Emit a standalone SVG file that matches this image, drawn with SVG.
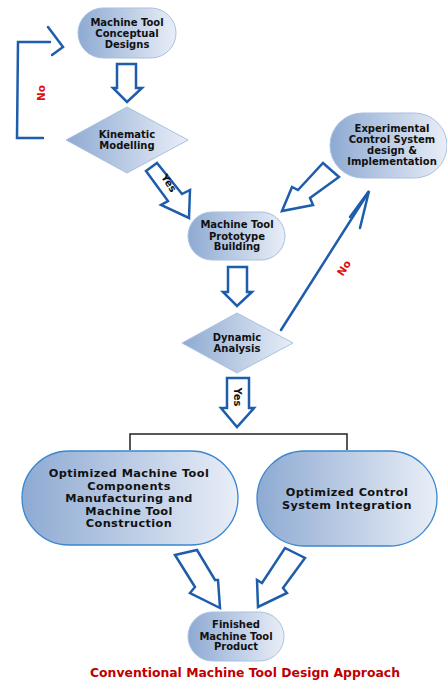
<svg xmlns="http://www.w3.org/2000/svg" width="447" height="682" viewBox="0 0 447 682">
<defs>
<linearGradient id="g" x1="0" y1="0" x2="1" y2="0">
<stop offset="0" stop-color="#8eaad2"/>
<stop offset="1" stop-color="#e9eef7"/>
</linearGradient>
<style>
.n{fill:url(#g);stroke:#a9c1e2;stroke-width:1}
.b{fill:url(#g);stroke:#3b86cf;stroke-width:1.3}
.t{font-family:"DejaVu Sans",Verdana,sans-serif;font-weight:bold;font-size:10px;fill:#111;text-anchor:middle}
.tb{font-family:"DejaVu Sans",Verdana,sans-serif;font-weight:bold;font-size:11.3px;letter-spacing:0.4px;fill:#111;text-anchor:middle}
.ar{fill:none;stroke:#1d5dab;stroke-width:2.5;stroke-linejoin:miter;stroke-linecap:round}
.red{font-family:"DejaVu Sans",Verdana,sans-serif;font-weight:bold;font-size:10.5px;fill:#e01010;text-anchor:middle}
.cap{font-family:"DejaVu Sans",Verdana,sans-serif;font-weight:bold;font-size:12.4px;fill:#c00000;text-anchor:middle}
</style>
</defs>
<rect width="447" height="682" fill="#fff"/>

<g id="connectors">
<!-- Conceptual -> Kinematic -->
<path class="ar" d="M117,64 L136,64 L136,88 L142,88 L127,102 L113,88 L117,88 Z"/>
<!-- No loop -->
<path class="ar" d="M50,42 L18,42 L17,138 L43,138" stroke-width="3"/>
<path class="ar" d="M48,27 L63,47 L52,55" stroke-width="3"/>
<text class="red" transform="translate(45,93) rotate(-90)">No</text>
<!-- Yes Kinematic -> Prototype -->
<path class="ar" d="M146,171 L157,163 L182,194 L190,190 L189,218 L161,205 L168,201 Z"/>
<text class="t" transform="translate(166,185) rotate(57)" font-size="9">Yes</text>
<!-- Experimental -> Prototype -->
<path class="ar" d="M323,163 L339,177 L310,198 L313,205 L282,211 L292,187 L298,190 Z"/>
<!-- Prototype -> Dynamic -->
<path class="ar" d="M228,267 L247,267 L247,292 L252,292 L237,306 L223,292 L228,292 Z"/>
<!-- No Dynamic -> Experimental -->
<path class="ar" d="M281,330 L368,193" stroke-width="2.8"/>
<path class="ar" d="M350,217 L369,191 L360,228" stroke-width="2.4"/>
<text class="red" transform="translate(347,270) rotate(-57)">No</text>
<!-- Yes Dynamic down -->
<path class="ar" d="M227,378 L249,378 L249,408 L254,408 L237,427 L221,408 L227,408 Z"/>
<text class="t" transform="translate(234,397) rotate(90)" font-size="9">Yes</text>
<!-- bracket -->
<path d="M130,450 L130,434 L347,434 L347,450" fill="none" stroke="#222" stroke-width="1.5"/>
<!-- Left big -> Finished -->
<path class="ar" d="M175,555 L197,550 L215,580 L218,580 L220,608 L190,593 L195,587 Z"/>
<!-- Right big -> Finished -->
<path class="ar" d="M285,548 L305,558 L283,588 L287,593 L258,607 L257,580 L262,583 Z"/>
</g>

<g id="n1">
<rect class="n" x="78" y="8" width="98" height="50" rx="25"/>
<text class="t" x="127" y="26">Machine Tool</text>
<text class="t" x="127" y="37">Conceptual</text>
<text class="t" x="127" y="48">Designs</text>
</g>

<g id="n2">
<polygon class="n" points="66,140 127,107 188,140 127,173"/>
<text class="t" x="127" y="138">Kinematic</text>
<text class="t" x="127" y="149">Modelling</text>
</g>

<g id="n3">
<rect class="n" x="188" y="212" width="97" height="48" rx="24"/>
<text class="t" x="237" y="228">Machine Tool</text>
<text class="t" x="237" y="240">Prototype</text>
<text class="t" x="237" y="250">Building</text>
</g>

<g id="n4">
<rect class="n" x="330" y="113" width="117" height="65" rx="32.5"/>
<text class="t" x="392" y="132">Experimental</text>
<text class="t" x="392" y="143">Control System</text>
<text class="t" x="392" y="154">design &amp;</text>
<text class="t" x="392" y="165">Implementation</text>
</g>

<g id="n5">
<polygon class="n" points="182,343 237,313 293,343 237,373"/>
<text class="t" x="237" y="341">Dynamic</text>
<text class="t" x="237" y="352">Analysis</text>
</g>

<g id="n6">
<rect class="b" x="22" y="451" width="216" height="94" rx="47"/>
<text class="tb" x="129" y="477">Optimized Machine Tool</text>
<text class="tb" x="129" y="489.5">Components</text>
<text class="tb" x="129" y="502">Manufacturing and</text>
<text class="tb" x="129" y="514.5">Machine Tool</text>
<text class="tb" x="129" y="527">Construction</text>
</g>

<g id="n7">
<rect class="b" x="257" y="451" width="180" height="95" rx="47.5"/>
<text class="tb" x="347" y="496">Optimized Control</text>
<text class="tb" x="347" y="508.5">System Integration</text>
</g>

<g id="n8">
<rect class="n" x="188" y="612" width="96" height="49" rx="24.5"/>
<text class="t" x="236" y="628">Finished</text>
<text class="t" x="236" y="640">Machine Tool</text>
<text class="t" x="236" y="650">Product</text>
</g>

<text class="cap" x="245" y="677">Conventional Machine Tool Design Approach</text>
</svg>
